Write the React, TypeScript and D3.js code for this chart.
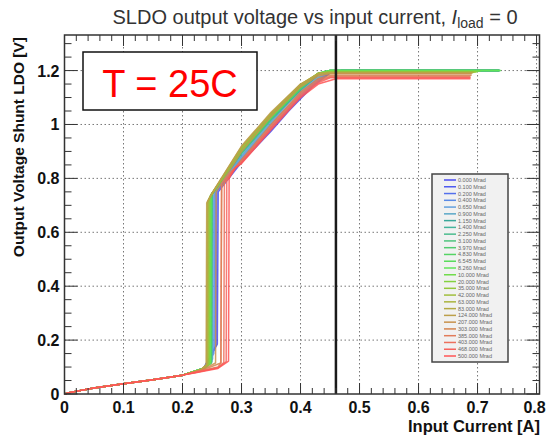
import React from "react";
import * as d3 from "d3";

const W = 546, H = 435;
const FONT = "'Liberation Sans', Arial, Helvetica, sans-serif";

const xTicks = [0, 0.1, 0.2, 0.3, 0.4, 0.5, 0.6, 0.7, 0.8];
const xTickLabels = ["0", "0.1", "0.2", "0.3", "0.4", "0.5", "0.6", "0.7", "0.8"];
const yTicks = [0, 0.2, 0.4, 0.6, 0.8, 1.0, 1.2];
const yTickLabels = ["0", "0.2", "0.4", "0.6", "0.8", "1", "1.2"];

const doses = ["0.000", "0.100", "0.200", "0.400", "0.650", "0.900", "1.150", "1.400", "2.250", "3.100", "3.970", "4.830", "6.545", "8.260", "10.000", "20.000", "35.000", "42.000", "63.000", "83.000", "124.000", "207.000", "303.000", "385.000", "403.000", "468.000", "500.000"];

const colors = ["#4a4af0", "#4f5cf0", "#5470ec", "#5a8ae6", "#62a0de", "#5aa8c8",
  "#3aa89a", "#45b49c", "#4cbc8e", "#4ec47e", "#52cc70", "#55d464", "#5adc5c", "#62e45a",
  "#72dc4c", "#84d240", "#94c83c", "#a0be3c", "#aab43e", "#b4aa44",
  "#bca04a", "#c8924c", "#d4844e", "#e27c5a", "#ec705c", "#f6645e", "#ff5454"];

// common low-current part of every curve
const basePoints: [number, number][] = [[0, 0], [0.01, 0.006], [0.05, 0.022], [0.1, 0.038], [0.15, 0.053], [0.2, 0.07]];

// per-series remaining points [I (A), V (V)]
const tails: [number, number][][] = [
  [[0.235, 0.092], [0.259, 0.185], [0.2605, 0.75], [0.3, 0.86], [0.35, 0.975], [0.38, 1.05], [0.42, 1.14], [0.45, 1.19], [0.47, 1.2], [0.737, 1.2]],
  [[0.235, 0.092], [0.257, 0.18], [0.2585, 0.752], [0.3, 0.865], [0.35, 0.98], [0.38, 1.055], [0.42, 1.145], [0.45, 1.192], [0.47, 1.2], [0.737, 1.2]],
  [[0.235, 0.092], [0.255, 0.17], [0.2565, 0.75], [0.3, 0.87], [0.35, 0.99], [0.38, 1.06], [0.42, 1.15], [0.45, 1.195], [0.47, 1.2], [0.736, 1.2]],
  [[0.236, 0.094], [0.253, 0.15], [0.2545, 0.748], [0.3, 0.875], [0.35, 1.0], [0.38, 1.07], [0.42, 1.155], [0.45, 1.196], [0.47, 1.2], [0.736, 1.2]],
  [[0.236, 0.094], [0.251, 0.13], [0.2525, 0.745], [0.3, 0.88], [0.35, 1.005], [0.38, 1.08], [0.42, 1.16], [0.45, 1.197], [0.47, 1.2], [0.736, 1.2]],
  [[0.237, 0.096], [0.25, 0.12], [0.251, 0.743], [0.3, 0.885], [0.35, 1.01], [0.38, 1.085], [0.42, 1.165], [0.45, 1.198], [0.47, 1.2], [0.737, 1.2]],
  [[0.237, 0.097], [0.248, 0.115], [0.249, 0.74], [0.3, 0.892], [0.35, 1.017], [0.4, 1.128], [0.43, 1.184], [0.45, 1.2], [0.737, 1.2]],
  [[0.237, 0.097], [0.248, 0.115], [0.249, 0.741], [0.3, 0.894], [0.35, 1.019], [0.4, 1.13], [0.43, 1.185], [0.45, 1.2], [0.737, 1.2]],
  [[0.237, 0.097], [0.249, 0.116], [0.25, 0.742], [0.3, 0.895], [0.35, 1.02], [0.4, 1.131], [0.43, 1.186], [0.45, 1.2], [0.738, 1.2]],
  [[0.237, 0.097], [0.249, 0.116], [0.25, 0.742], [0.3, 0.897], [0.35, 1.022], [0.4, 1.133], [0.43, 1.187], [0.45, 1.2], [0.737, 1.2]],
  [[0.236, 0.096], [0.248, 0.115], [0.249, 0.74], [0.3, 0.898], [0.35, 1.023], [0.4, 1.134], [0.43, 1.188], [0.45, 1.2], [0.737, 1.2]],
  [[0.236, 0.096], [0.248, 0.115], [0.249, 0.739], [0.3, 0.9], [0.35, 1.025], [0.4, 1.136], [0.43, 1.189], [0.45, 1.2], [0.736, 1.2]],
  [[0.236, 0.096], [0.247, 0.114], [0.248, 0.738], [0.3, 0.902], [0.35, 1.027], [0.4, 1.138], [0.43, 1.19], [0.45, 1.2], [0.737, 1.2]],
  [[0.236, 0.096], [0.247, 0.114], [0.248, 0.737], [0.3, 0.903], [0.35, 1.028], [0.4, 1.139], [0.43, 1.19], [0.45, 1.2], [0.74, 1.2]],
  [[0.235, 0.094], [0.246, 0.113], [0.247, 0.735], [0.3, 0.905], [0.35, 1.03], [0.4, 1.14], [0.43, 1.19], [0.45, 1.198], [0.705, 1.198]],
  [[0.234, 0.093], [0.245, 0.112], [0.246, 0.73], [0.3, 0.908], [0.35, 1.033], [0.4, 1.143], [0.43, 1.19], [0.45, 1.196], [0.7, 1.196]],
  [[0.233, 0.092], [0.244, 0.111], [0.245, 0.725], [0.3, 0.91], [0.35, 1.036], [0.4, 1.145], [0.43, 1.19], [0.45, 1.195], [0.698, 1.195]],
  [[0.233, 0.091], [0.243, 0.11], [0.244, 0.72], [0.3, 0.912], [0.35, 1.038], [0.4, 1.147], [0.43, 1.19], [0.45, 1.194], [0.695, 1.194]],
  [[0.232, 0.09], [0.242, 0.11], [0.243, 0.715], [0.25, 0.742], [0.3, 0.915], [0.35, 1.04], [0.4, 1.148], [0.43, 1.19], [0.45, 1.193], [0.693, 1.193]],
  [[0.231, 0.089], [0.241, 0.109], [0.242, 0.712], [0.25, 0.744], [0.3, 0.918], [0.35, 1.042], [0.4, 1.15], [0.43, 1.188], [0.45, 1.192], [0.692, 1.192]],
  [[0.23, 0.088], [0.24, 0.108], [0.241, 0.708], [0.25, 0.745], [0.3, 0.92], [0.35, 1.045], [0.4, 1.15], [0.43, 1.185], [0.45, 1.19], [0.69, 1.19]],
  [[0.235, 0.092], [0.256, 0.115], [0.257, 0.75], [0.3, 0.9], [0.35, 1.03], [0.4, 1.14], [0.43, 1.18], [0.45, 1.188], [0.69, 1.188]],
  [[0.235, 0.09], [0.265, 0.115], [0.2665, 0.77], [0.28, 0.81], [0.3, 0.87], [0.35, 1.0], [0.4, 1.12], [0.43, 1.17], [0.45, 1.183], [0.69, 1.183]],
  [[0.23, 0.085], [0.26, 0.1], [0.265, 0.115], [0.266, 0.78], [0.28, 0.82], [0.3, 0.865], [0.35, 0.995], [0.4, 1.115], [0.43, 1.165], [0.45, 1.178], [0.688, 1.178]],
  [[0.225, 0.082], [0.26, 0.098], [0.27, 0.117], [0.271, 0.785], [0.285, 0.83], [0.3, 0.862], [0.35, 0.99], [0.4, 1.11], [0.43, 1.16], [0.45, 1.175], [0.688, 1.175]],
  [[0.222, 0.08], [0.26, 0.097], [0.274, 0.12], [0.275, 0.79], [0.288, 0.835], [0.3, 0.858], [0.35, 0.985], [0.4, 1.105], [0.43, 1.155], [0.45, 1.173], [0.688, 1.173]],
  [[0.22, 0.078], [0.26, 0.095], [0.278, 0.122], [0.279, 0.8], [0.29, 0.84], [0.3, 0.855], [0.35, 0.98], [0.4, 1.1], [0.43, 1.15], [0.46, 1.17], [0.688, 1.17]],
];

const markerCurrent = 0.46;

export default function App() {
  const left = 64.5, right = 539.5, top = 35, bottom = 394;
  const x = d3.scaleLinear().domain([0, 0.805]).range([left, right]);
  const y = d3.scaleLinear().domain([0, 1.332]).range([bottom, top]);
  const line = d3.line<[number, number]>().x((d) => x(d[0])).y((d) => y(d[1]));

  const xMinor = d3.range(0, 0.8001, 0.02);
  const yMinor = d3.range(0, 1.3301, 0.05);
  const isMajor = (v: number, step: number) => Math.abs(v / step - Math.round(v / step)) < 1e-6;

  const legX = 432, legY = 174, legW = 76, legH = 188;
  const legStep = (legH - 12) / (doses.length - 1);

  return (
    <svg width={W} height={H} style={{ position: "absolute", left: 0, top: 0, background: "#fff" }} fontFamily={FONT}>
      <rect x={0} y={0} width={W} height={H} fill="#fff" />
      {/* title */}
      <text x={315} y={24} textAnchor="middle" fontSize={20} fill="#333">
        SLDO output voltage vs input current, <tspan fontStyle="italic">I</tspan>
        <tspan fontSize={14} dy={4}>load</tspan>
        <tspan dy={-4}> = 0</tspan>
      </text>
      {/* grid */}
      {xTicks.slice(1).map((t) => (
        <line key={"gx" + t} x1={x(t)} x2={x(t)} y1={top} y2={bottom} stroke="#777" strokeWidth={1} strokeDasharray="1.5 2.5" />
      ))}
      {yTicks.slice(1).map((t) => (
        <line key={"gy" + t} x1={left} x2={right} y1={y(t)} y2={y(t)} stroke="#777" strokeWidth={1} strokeDasharray="1.5 2.5" />
      ))}
      {/* curves */}
      <g fill="none" strokeWidth={1.5} strokeOpacity={0.85} strokeLinejoin="round">
        {tails.map((tail, i) => (
          <path key={"c" + i} d={line([...basePoints, ...tail]) || ""} stroke={colors[i]} />
        ))}
      </g>
      {/* marker line */}
      <line x1={x(markerCurrent)} x2={x(markerCurrent)} y1={top} y2={bottom} stroke="#1a1a1a" strokeWidth={2.5} />
      {/* ticks */}
      <g stroke="#333" strokeWidth={1}>
        {xMinor.map((t) => {
          const L = isMajor(t, 0.1) ? 11 : 6;
          return (
            <g key={"tx" + t}>
              <line x1={x(t)} x2={x(t)} y1={bottom} y2={bottom - L} />
              <line x1={x(t)} x2={x(t)} y1={top} y2={top + L} />
            </g>
          );
        })}
        {yMinor.map((t) => {
          const L = isMajor(t, 0.2) ? 13 : 7;
          return (
            <g key={"ty" + t}>
              <line x1={left} x2={left + L} y1={y(t)} y2={y(t)} />
              <line x1={right} x2={right - L} y1={y(t)} y2={y(t)} />
            </g>
          );
        })}
      </g>
      {/* frame */}
      <rect x={left} y={top} width={right - left} height={bottom - top} fill="none" stroke="#333" strokeWidth={1.5} />
      {/* tick labels */}
      <g fontSize={16} fontWeight="bold" fill="#111">
        {xTicks.map((t, i) => (
          <text key={"lx" + t} x={i === xTicks.length - 1 ? x(t) - 2 : x(t)} y={bottom + 19} textAnchor="middle">{xTickLabels[i]}</text>
        ))}
        {yTicks.map((t, i) => (
          <text key={"ly" + t} x={left - 5} y={y(t) + 6} textAnchor="end">{yTickLabels[i]}</text>
        ))}
      </g>
      {/* axis titles */}
      <text x={540} y={432} textAnchor="end" fontSize={16.5} fontWeight="bold" fill="#111">Input Current [A]</text>
      <text transform={`translate(24,${top + 2}) rotate(-90)`} textAnchor="end" fontSize={15.5} fontWeight="bold" fill="#111">Output Voltage Shunt LDO [V]</text>
      {/* temperature box */}
      <rect x={83} y={52} width={174} height={58} fill="#fff" stroke="#111" strokeWidth={1.5} />
      <text x={170} y={97} textAnchor="middle" fontSize={38} fill="#ff0000">T = 25C</text>
      {/* legend */}
      <rect x={legX} y={legY} width={legW} height={legH} fill="#f1f1f1" stroke="#444" strokeWidth={1.5} />
      {doses.map((d, i) => {
        const yy = legY + 6 + i * legStep;
        return (
          <g key={"lg" + i}>
            <line x1={legX + 12} x2={legX + 24} y1={yy} y2={yy} stroke={colors[i]} strokeWidth={1.5} />
            <text x={legX + 26} y={yy + 2} fontSize={5.5} fill="#666">{d} Mrad</text>
          </g>
        );
      })}
    </svg>
  );
}
